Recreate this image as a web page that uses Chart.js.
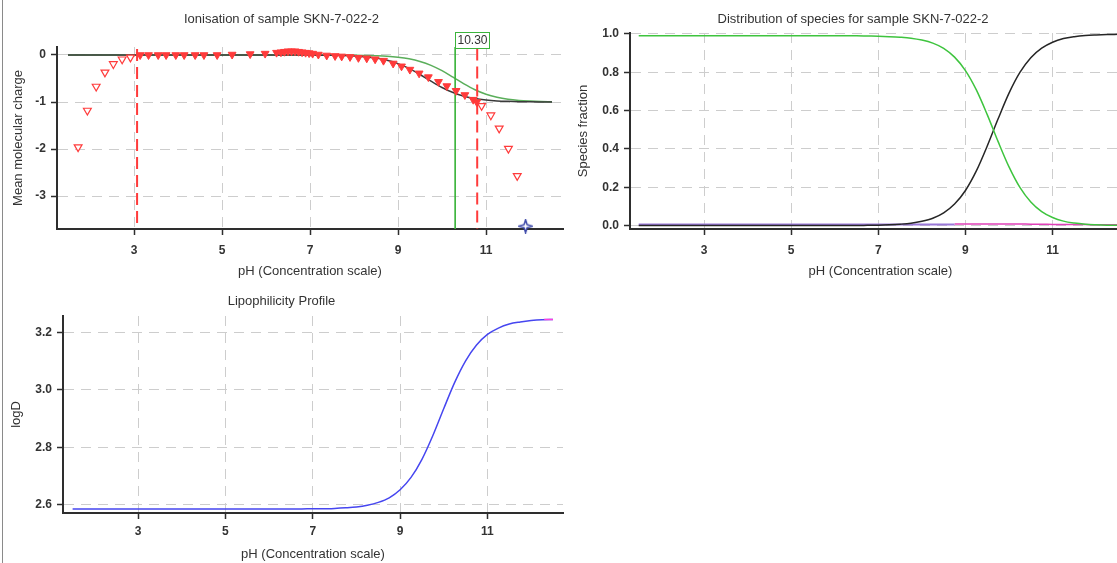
<!DOCTYPE html>
<html>
<head>
<meta charset="utf-8">
<script src="https://cdn.jsdelivr.net/npm/chart.js@4.4.1/dist/chart.umd.min.js"></script>
<style>
  html, body { margin: 0; padding: 0; background: #fff; width: 1117px; height: 563px; overflow: hidden; }
  .plot { position: absolute; }
  #edge { position: absolute; left: 2px; top: 0; width: 1px; height: 563px; background: #8a8a8a; }
</style>
</head>
<body>
<div id="edge"></div>
<canvas id="ionChart" class="plot" width="575" height="285" style="left:0;top:0"></canvas>
<canvas id="speciesChart" class="plot" width="566" height="285" style="left:575px;top:0"></canvas>
<canvas id="logdChart" class="plot" width="575" height="278" style="left:0;top:285px"></canvas>
<script>
// pH grid used by the model curves
const phGrid = [1.5, 1.75, 2, 2.25, 2.5, 2.75, 3, 3.25, 3.5, 3.75, 4, 4.25, 4.5, 4.75, 5, 5.25, 5.5, 5.75, 6, 6.25, 6.5,
  6.75, 7, 7.25, 7.5, 7.75, 8, 8.25, 8.5, 8.75, 9, 9.25, 9.5, 9.75, 10, 10.25, 10.5, 10.75, 11, 11.25, 11.5, 11.75, 12, 12.25, 12.5];
const phTicks = [3, 5, 7, 9, 11];

// Ionisation chart
const chargeTicks = [0, -1, -2, -3];
const modelCharge = [0, 0, 0, 0, 0, 0, 0, 0, 0, 0, 0, 0, 0, 0, 0, 0, 0, 0, 0, 0, 0,
  -0.001, -0.002, -0.004, -0.007, -0.012, -0.022, -0.038, -0.066, -0.112, -0.183, -0.285, -0.415, -0.557,
  -0.691, -0.799, -0.876, -0.926, -0.957, -0.976, -0.986, -0.992, -0.996, -0.998, -0.999];
const fitCharge = [0, 0, 0, 0, 0, 0, 0, 0, 0, 0, 0, 0, 0, 0, 0, 0, 0, 0, 0, 0, 0, 0, 0, 0,
  -0.002, -0.003, -0.005, -0.009, -0.016, -0.027, -0.048, -0.082, -0.137, -0.220, -0.334, -0.471,
  -0.613, -0.738, -0.834, -0.899, -0.941, -0.966, -0.980, -0.989, -0.994];
const usedPh = [3.14, 3.33, 3.55, 3.73, 3.95, 4.14, 4.39, 4.59, 4.89, 5.23, 5.64, 5.98, 6.24, 6.34, 6.42, 6.5, 6.58,
  6.66, 6.74, 6.82, 6.9, 6.98, 7.06, 7.19, 7.38, 7.57, 7.72, 7.91, 8.1, 8.29, 8.48, 8.67, 8.89, 9.08, 9.27, 9.48,
  9.69, 9.92, 10.11, 10.32, 10.52, 10.71, 10.79];
const usedCharge = [0, 0, 0, 0, 0, 0, 0, 0, 0, 0.01, 0.02, 0.03, 0.05, 0.06, 0.07, 0.08, 0.08, 0.08, 0.07, 0.06, 0.05,
  0.04, 0.03, 0.01, -0.01, -0.02, -0.03, -0.04, -0.06, -0.07, -0.09, -0.12, -0.18, -0.24, -0.31, -0.39, -0.47,
  -0.57, -0.66, -0.76, -0.85, -0.95, -1.0];
const unusedPh = [1.73, 1.94, 2.14, 2.34, 2.53, 2.73, 2.92, 10.9, 11.11, 11.3, 11.51, 11.71];
const unusedCharge = [-1.96, -1.18, -0.67, -0.37, -0.19, -0.09, -0.05, -1.08, -1.28, -1.56, -1.99, -2.57];
const rangeLimits = [3.07, 10.8];
const fittedPka = 10.3;
const fittedPkaLabel = "10.30";
const starPh = [11.9];
const starCharge = [-3.64];

// Species distribution chart
const fractionTicks = [0, 0.2, 0.4, 0.6, 0.8, 1.0];
const neutralFrac = [0.99, 0.99, 0.99, 0.99, 0.99, 0.99, 0.99, 0.99, 0.99, 0.99, 0.99, 0.99, 0.99, 0.99, 0.99, 0.99,
  0.99, 0.99, 0.99, 0.99, 0.99, 0.989, 0.988, 0.986, 0.983, 0.978, 0.968, 0.952, 0.925, 0.879, 0.809, 0.708,
  0.579, 0.438, 0.306, 0.199, 0.123, 0.073, 0.042, 0.023, 0.013, 0.007, 0.004, 0.002, 0.001];
const anionFrac = [0, 0, 0, 0, 0, 0, 0, 0, 0, 0, 0, 0, 0, 0, 0, 0, 0, 0, 0, 0, 0,
  0.001, 0.002, 0.004, 0.007, 0.012, 0.022, 0.038, 0.066, 0.112, 0.183, 0.285, 0.415, 0.557, 0.691, 0.799,
  0.876, 0.926, 0.957, 0.976, 0.986, 0.992, 0.995, 0.997, 0.998];
const cationFrac = [0.006, 0.006, 0.006, 0.006, 0.006, 0.006, 0.006, 0.006, 0.006, 0.006, 0.006, 0.006, 0.006, 0.006,
  0.006, 0.006, 0.006, 0.006, 0.006, 0.006, 0.006, 0.006, 0.006, 0.006, 0.006, 0.006, 0.006, 0.006, 0.006, 0.006,
  null, null, null, null, null, null, null, null, null, null, null, null, null, null, null];
const dianionFrac = [null, null, null, null, null, null, null, null, null, null, null, null, null, null, null, null,
  null, null, null, null, null, null, null, null, null, null, null, null, null, 0.008, 0.008, 0.008, 0.008, 0.008,
  0.008, 0.008, 0.007, 0.007, 0.006, 0.006, 0.005, 0.005, 0.004, 0.004, 0.004];

// Lipophilicity chart
const logdTicks = [2.6, 2.8, 3.0, 3.2];
const logD = [2.585, 2.585, 2.585, 2.585, 2.585, 2.585, 2.585, 2.585, 2.585, 2.585, 2.585, 2.585, 2.585, 2.585,
  2.585, 2.585, 2.585, 2.585, 2.585, 2.585, 2.585, 2.585, 2.586, 2.586, 2.587, 2.589, 2.592, 2.598, 2.608, 2.624,
  2.652, 2.695, 2.758, 2.841, 2.935, 3.026, 3.101, 3.156, 3.193, 3.215, 3.229, 3.236, 3.241, 3.244, 3.245];
const logdTipPh = [12.3, 12.5];
const logdTip = [3.2445, 3.245];

const xTitle = "pH (Concentration scale)";
const textColor = "#333";
const axisColor = "#2e2e2e";
const gridColor = "#cdcdcd";
const red = "#ff3b3b";

Chart.defaults.font.family = "'Liberation Sans', Arial, sans-serif";
Chart.defaults.font.size = 12;
Chart.defaults.color = textColor;

const toPts = (xs, ys) => xs.map((x, i) => ({ x: x, y: ys[i] }));

function makeScales(c) {
  const grid = { color: gridColor, lineWidth: 1, tickColor: axisColor, tickLength: 6, tickWidth: 1.5 };
  const border = { color: axisColor, width: 2, dash: [10, 7] };
  return {
    x: {
      type: "linear", min: c.xMin, max: c.xMax,
      afterBuildTicks: s => { s.ticks = phTicks.map(v => ({ value: v })); },
      afterFit: s => { s.height = c.xHeight; },
      grid: grid, border: border,
      ticks: { color: textColor, padding: c.xTickPad, maxRotation: 0, font: { size: 12, weight: "bold" } },
      title: { display: true, text: xTitle, color: textColor, font: { size: 13 }, padding: { top: 0, bottom: c.xTitlePad } }
    },
    y: {
      type: "linear", min: c.yMin, max: c.yMax,
      afterBuildTicks: s => { s.ticks = c.yTicks.map(v => ({ value: v })); },
      afterFit: s => { s.width = c.yWidth; },
      grid: grid, border: border,
      ticks: { color: textColor, padding: 5, font: { size: 12, weight: "bold" }, callback: c.yFmt },
      title: { display: true, text: c.yTitle, color: textColor, font: { size: 13 }, padding: { top: c.yTitlePad, bottom: 0 } }
    }
  };
}

function titleOpts(text, top, bottom) {
  return { display: true, text: text, color: textColor, font: { size: 13, weight: "normal" }, padding: { top: top, bottom: bottom } };
}

const baseOpts = { responsive: false, animation: false, events: [] };

// four-pointed star marker
const starImg = document.createElement("canvas");
starImg.width = 15; starImg.height = 15;
(function () {
  const s = starImg.getContext("2d");
  s.strokeStyle = "#3a46a8"; s.lineWidth = 1.5; s.fillStyle = "#fff";
  s.beginPath();
  s.moveTo(7.5, 1); s.lineTo(9, 6); s.lineTo(14, 7.5); s.lineTo(9, 9);
  s.lineTo(7.5, 14); s.lineTo(6, 9); s.lineTo(1, 7.5); s.lineTo(6, 6); s.closePath();
  s.fill(); s.stroke();
})();

// label box for the fitted pKa
const pkaLabel = {
  id: "pkaLabel",
  afterDatasetsDraw(chart) {
    const ctx = chart.ctx;
    const x = Math.round(chart.scales.x.getPixelForValue(fittedPka));
    const top = chart.chartArea.top - 15;
    ctx.save();
    ctx.font = "12px 'Liberation Sans', Arial, sans-serif";
    const w = Math.round(ctx.measureText(fittedPkaLabel).width) + 4;
    ctx.fillStyle = "#fff";
    ctx.fillRect(x, top, w, 16);
    ctx.strokeStyle = "#3cb43c";
    ctx.lineWidth = 1;
    ctx.strokeRect(x + 0.5, top + 0.5, w, 16);
    ctx.fillStyle = textColor;
    ctx.textBaseline = "middle";
    ctx.fillText(fittedPkaLabel, x + 2.5, top + 8.5);
    ctx.restore();
  }
};

const curve = (data, color, width) => ({
  data: data, borderColor: color, borderWidth: width, pointRadius: 0, cubicInterpolationMode: "monotone", fill: false
});
const vline = (x, yTop, yBottom, color, dash, width) => ({
  data: [{ x: x, y: yTop }, { x: x, y: yBottom }], borderColor: color, borderDash: dash, borderWidth: width, pointRadius: 0
});

new Chart(document.getElementById("ionChart"), {
  type: "line",
  data: {
    datasets: [
      { data: toPts(starPh, starCharge), showLine: false, pointStyle: starImg, pointRadius: 7, clip: false },
      { data: toPts(unusedPh, unusedCharge), showLine: false, pointStyle: "triangle", rotation: 180, pointRadius: 4.5,
        backgroundColor: "#fff", borderColor: red, borderWidth: 1.2 },
      { data: toPts(usedPh, usedCharge), showLine: false, pointStyle: "triangle", rotation: 180, pointRadius: 4.5,
        backgroundColor: red, borderColor: red, borderWidth: 1 },
      vline(rangeLimits[0], 0.13, -3.7, red, [12, 6], 2),
      vline(rangeLimits[1], 0.14, -3.7, red, [12, 6], 2),
      vline(fittedPka, 0.17, -3.7, "#3cb43c", [], 1),
      curve(toPts(phGrid, modelCharge), "#3a3a3a", 1.5),
      curve(toPts(phGrid, fitCharge), "#5aae5a", 1.5)
    ]
  },
  options: Object.assign({}, baseOpts, {
    layout: { padding: { left: 0, right: 12, top: 0, bottom: 0 } },
    plugins: { legend: { display: false }, tooltip: { enabled: false },
      title: titleOpts("Ionisation of sample SKN-7-022-2", 11.2, 20.2) },
    scales: makeScales({ xMin: 1.25, xMax: 12.75, yMin: -3.7, yMax: 0.17, yTicks: chargeTicks,
      yFmt: v => String(v), yTitle: "Mean molecular charge", yWidth: 57, xHeight: 56, xTickPad: 8,
      xTitlePad: 5.7, yTitlePad: 10.5 })
  }),
  plugins: [pkaLabel]
});

new Chart(document.getElementById("speciesChart"), {
  type: "line",
  data: {
    datasets: [
      curve(toPts(phGrid, neutralFrac), "#3ec43e", 1.5),
      curve(toPts(phGrid, anionFrac), "#262626", 1.5),
      curve(toPts(phGrid, cationFrac), "#9a78d8", 2),
      curve(toPts(phGrid, dianionFrac), "#e040b8", 1.5)
    ]
  },
  options: Object.assign({}, baseOpts, {
    layout: { padding: { left: 0, right: 10, top: 0, bottom: 0 } },
    plugins: { legend: { display: false }, tooltip: { enabled: false },
      title: titleOpts("Distribution of species for sample SKN-7-022-2", 11.2, 6.2) },
    scales: makeScales({ xMin: 1.3, xMax: 12.8, yMin: -0.018, yMax: 1.005, yTicks: fractionTicks,
      yFmt: v => v.toFixed(1), yTitle: "Species fraction", yWidth: 55, xHeight: 56, xTickPad: 8,
      xTitlePad: 5.7, yTitlePad: 0.7 })
  })
});

new Chart(document.getElementById("logdChart"), {
  type: "line",
  data: {
    datasets: [
      curve(toPts(logdTipPh, logdTip), "#ff40e0", 1.5),
      curve(toPts(phGrid, logD), "#4646f0", 1.5)
    ]
  },
  options: Object.assign({}, baseOpts, {
    layout: { padding: { left: 0, right: 12, top: 0, bottom: 0 } },
    plugins: { legend: { display: false }, tooltip: { enabled: false },
      title: titleOpts("Lipophilicity Profile", 8.7, 6.7) },
    scales: makeScales({ xMin: 1.28, xMax: 12.73, yMin: 2.571, yMax: 3.257, yTicks: logdTicks,
      yFmt: v => v.toFixed(1), yTitle: "logD", yWidth: 63, xHeight: 50, xTickPad: 5,
      xTitlePad: 1.2, yTitlePad: 8.9 })
  })
});
</script>
</body>
</html>
